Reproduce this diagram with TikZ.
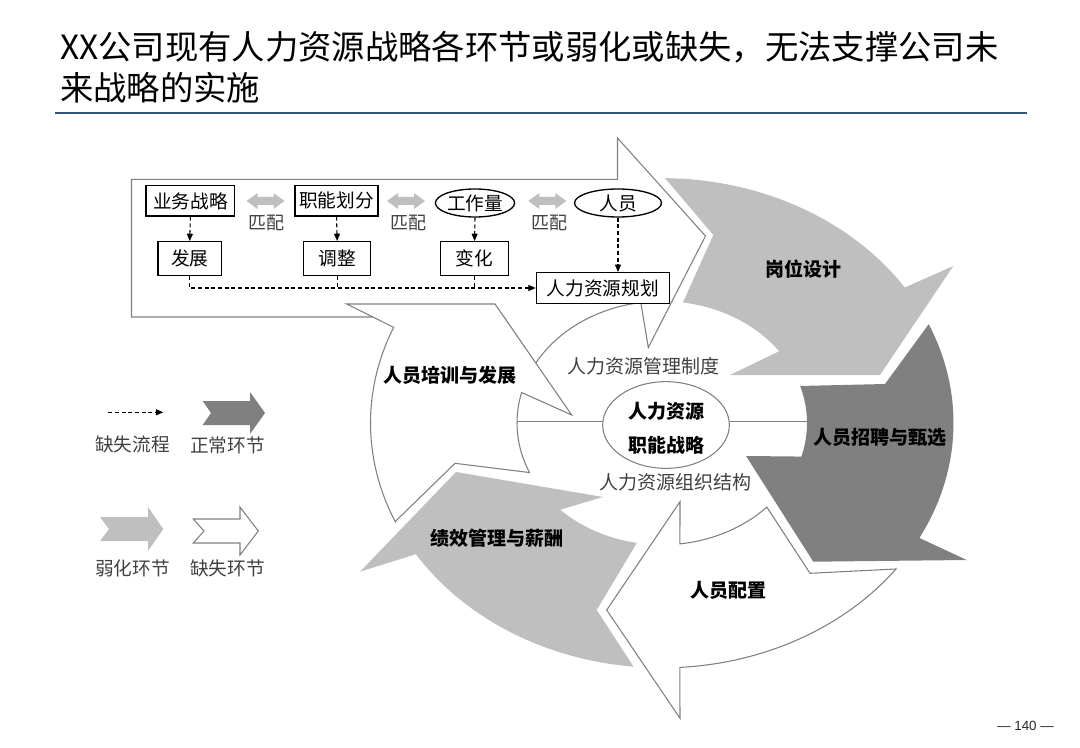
\documentclass[tikz,border=0pt]{standalone}
\usepackage{fontspec}
\setmainfont{Noto Sans CJK SC}
\newfontfamily\pnfont{Liberation Sans}
\usetikzlibrary{arrows.meta,shapes.geometric}
\definecolor{lg}{RGB}{191,191,191}
\definecolor{dg}{RGB}{128,128,128}
\definecolor{edgec}{RGB}{128,128,128}
\definecolor{tblue}{RGB}{46,84,128}
\definecolor{txtg}{RGB}{64,64,64}
\def\ro{291.5}
\def\ri{145}
\begin{document}
\begin{tikzpicture}[x=0.75pt,y=-0.75pt,
  lightarrow/.style={fill=lg},
  darkarrow/.style={fill=dg},
  whitearrow/.style={fill=white,draw=edgec,line width=0.8pt,line join=miter},
  flowbox/.style={draw=black,line width=1pt,fill=white,inner sep=0pt,font=\fontsize{14}{16}\selectfont},
  flowoval/.style={flowbox,ellipse},
  ringlabel/.style={inner sep=0pt,font=\fontsize{14.25}{16}\selectfont\bfseries},
  plainlabel/.style={inner sep=0pt,text=txtg,font=\fontsize{14.25}{16}\selectfont},
  matchlabel/.style={inner sep=0pt,text=txtg,font=\fontsize{13.5}{15}\selectfont},
  legendlabel/.style={inner sep=0pt,text=txtg,font=\fontsize{14}{16}\selectfont},
  dasharr/.style={draw=black,line width=0.8pt,dash pattern=on 3pt off 2pt,-{Triangle[length=5.5pt,width=4.5pt]}},
  dashline/.style={draw=black,line width=0.8pt,dash pattern=on 3pt off 2pt},
  matcharrow/.style={fill=lg}
]
\useasboundingbox (0,0) rectangle (1080,748);

% ---------- title ----------
\node[inner sep=0pt,anchor=west,font=\fontsize{25}{28}\selectfont] (t1) at (60,47.5) {XX公司现有人力资源战略各环节或弱化或缺失，无法支撑公司未};
\node[inner sep=0pt,anchor=west,font=\fontsize{25}{28}\selectfont] (t2) at (60,87.5) {来战略的实施};
\draw[tblue,line width=1.5pt] (55,113) -- (1027,113);

% ---------- coordinates of arrow vertices ----------
\coordinate (a1ow) at (953.3,266);
\coordinate (a1tip) at (880,375);
\coordinate (a1iw) at (730,375);
\coordinate (a1n) at (713.3,235);
\coordinate (a2n) at (885,384);
\coordinate (a2iw) at (746,456);
\coordinate (a2tip) at (813.3,561.7);
\coordinate (a2ow) at (966.7,560);
\coordinate (a3n) at (810,573.3);
\coordinate (a3iw) at (680,501.7);
\coordinate (a3tip) at (606.7,610);
\coordinate (a3ow) at (680,718.3);
\coordinate (a4ow) at (360,571.7);
\coordinate (a4tip) at (456,472);
\coordinate (a4iw) at (603,497);
\coordinate (a4n) at (596.7,610);
\coordinate (a5n) at (455,463.3);
\coordinate (a5sp) at (571.7,415);
\coordinate (a5tr) at (495,304);
\coordinate (a5tl) at (346.7,304);
\coordinate (a6tl) at (131.5,179.3);
\coordinate (a6hb) at (617.5,179.3);
\coordinate (a6ht) at (617.5,138);
\coordinate (a6tip) at (705.5,236);
\coordinate (a6iw) at (648.3,347.5);
\coordinate (a6j) at (504,317);
\coordinate (a6bl) at (131.5,317);

% ---------- ring of arrows ----------
\begin{scope}[shift={(662,423)},yscale=-0.84]
  % 岗位设计
  \fill[lightarrow] (89.4:\ro) arc[start angle=89.4,end angle=33.6,radius=\ro] -- (a1ow) -- (a1tip) -- (a1iw) -- (36.1:\ri) arc[start angle=36.1,end angle=81.7,radius=\ri] -- (a1n) -- cycle;
  % 人员招聘与甄选
  \fill[darkarrow] (23.8:\ro) -- (a2n) -- (17.7:\ri) arc[start angle=17.7,end angle=-16,radius=\ri] -- (a2iw) -- (a2tip) -- (a2ow) -- (-28:\ro) arc[start angle=-28,end angle=23.8,radius=\ro] -- cycle;
  % 人员配置
  \filldraw[whitearrow] (-36.6:\ro) -- (a3n) -- (-43.7:\ri) arc[start angle=-43.7,end angle=-82.9,radius=\ri] -- (a3iw) -- (a3tip) -- (a3ow) -- (-86.5:\ro) arc[start angle=-86.5,end angle=-36.6,radius=\ro] -- cycle;
  % 绩效管理与薪酬
  \fill[lightarrow] (-95.6:\ro) arc[start angle=-95.6,end angle=-147.6,radius=\ro] -- (a4ow) -- (a4tip) -- (a4iw) -- (-134.6:\ri) arc[start angle=-134.6,end angle=-100,radius=\ri] -- (a4n) -- cycle;
  % big planning arrow
  \filldraw[whitearrow] (a6tl) -- (a6hb) -- (a6ht) -- (a6tip) -- (a6iw) -- (98.4:\ri) arc[start angle=98.4,end angle=151,radius=\ri] -- (a6j) -- (a6bl) -- cycle;
  % 人员培训与发展
  \filldraw[whitearrow] (203.75:\ro) -- (a5n) -- (204:\ri) arc[start angle=204,end angle=165.5,radius=\ri] -- (a5sp) -- (a5tr) -- (a5tl) -- (157:\ro) arc[start angle=157,end angle=203.75,radius=\ro] -- cycle;
\end{scope}

% ---------- centre ----------
\draw[edgec,line width=0.8pt] (517,421.7) -- (807,421.7);
\node[ellipse,draw=edgec,line width=0.8pt,fill=white,minimum width=95pt,minimum height=65pt,inner sep=0pt] (core) at (666,425) {};
\node[ringlabel] (core1) at (666,411.7) {人力资源};
\node[ringlabel] (core2) at (666,445) {职能战略};
\node[plainlabel] (sys) at (643,366) {人力资源管理制度};
\node[plainlabel] (org) at (675,482) {人力资源组织结构};

% ---------- ring labels ----------
\node[ringlabel] (l1) at (803,269) {岗位设计};
\node[ringlabel] (l2) at (880,437) {人员招聘与甄选};
\node[ringlabel] (l3) at (728,590) {人员配置};
\node[ringlabel] (l4) at (497,538) {绩效管理与薪酬};
\node[ringlabel] (l5) at (450,375) {人员培训与发展};

% ---------- flow inside big arrow ----------
\node[flowbox,minimum width=66.6pt,minimum height=22.7pt] (ywzl) at (190.4,200.9) {业务战略};
\node[flowbox,minimum width=62.25pt,minimum height=22.7pt] (znhf) at (336.5,200.9) {职能划分};
\node[flowoval,minimum width=55.8pt,minimum height=21pt] (gzl) at (475,203) {工作量};
\node[flowoval,minimum width=65.25pt,minimum height=21pt] (ry) at (618,203) {人员};
\node[flowbox,minimum width=47.5pt,minimum height=25.5pt] (fz) at (189.7,258.7) {发展};
\node[flowbox,minimum width=50.25pt,minimum height=25.5pt] (tz) at (337.2,258.7) {调整};
\node[flowbox,minimum width=50.8pt,minimum height=25.5pt] (bh) at (474.5,258.7) {变化};
\node[flowbox,minimum width=99.6pt,minimum height=23pt] (gh) at (602.8,288) {人力资源规划};

\path[dasharr] (ywzl.south) -- (fz.north);
\path[dasharr] (znhf.south) -- (tz.north);
\path[dasharr] (gzl.south) -- (bh.north);
\path[dasharr] (ry.south) -- (ry.south |- gh.north);
\path[dasharr] (fz.south) |- (gh.west);
\path[dashline] (tz.south) -- (tz.south |- gh.west);
\path[dashline] (bh.south) -- (bh.south |- gh.west);

% match double arrows
\foreach \cx in {265.5,406,547.3}{
  \fill[matcharrow] (\cx-19,201) -- (\cx-8,193) -- (\cx-8,197) -- (\cx+8,197) -- (\cx+8,193) -- (\cx+19,201) -- (\cx+8,209) -- (\cx+8,205) -- (\cx-8,205) -- (\cx-8,209) -- cycle;
}
\node[matchlabel] (p1) at (266.5,222.5) {匹配};
\node[matchlabel] (p2) at (408,222.5) {匹配};
\node[matchlabel] (p3) at (549.5,222.5) {匹配};

% ---------- legend ----------
\coordinate (lgs) at (108.3,412.3);
\coordinate (lge) at (163.3,412.3);
\path[dasharr] (lgs) -- (lge);
\node[legendlabel] (lt1) at (132.5,444) {缺失流程};
\fill[darkarrow] (202.7,401) -- (250,401) -- (250,392) -- (265,413) -- (250,434) -- (250,425) -- (202.7,425) -- (211,413) -- cycle;
\node[legendlabel] (lt2) at (227.5,445) {正常环节};
\fill[lightarrow] (100,517) -- (148,517) -- (148,507) -- (163.3,529) -- (148,551) -- (148,541) -- (100,541) -- (109,529) -- cycle;
\node[legendlabel] (lt3) at (132.5,568.3) {弱化环节};
\filldraw[whitearrow] (193.3,519) -- (240,519) -- (240,507) -- (258.3,531) -- (240,555) -- (240,543) -- (193.3,543) -- (204,531) -- cycle;
\node[legendlabel] (lt4) at (227.5,568.3) {缺失环节};

% ---------- page number ----------
\node[inner sep=0pt,font=\pnfont\fontsize{10}{12}\selectfont,text=black!85] (pn) at (1025.5,726) {— 140 —};
\end{tikzpicture}
\end{document}
